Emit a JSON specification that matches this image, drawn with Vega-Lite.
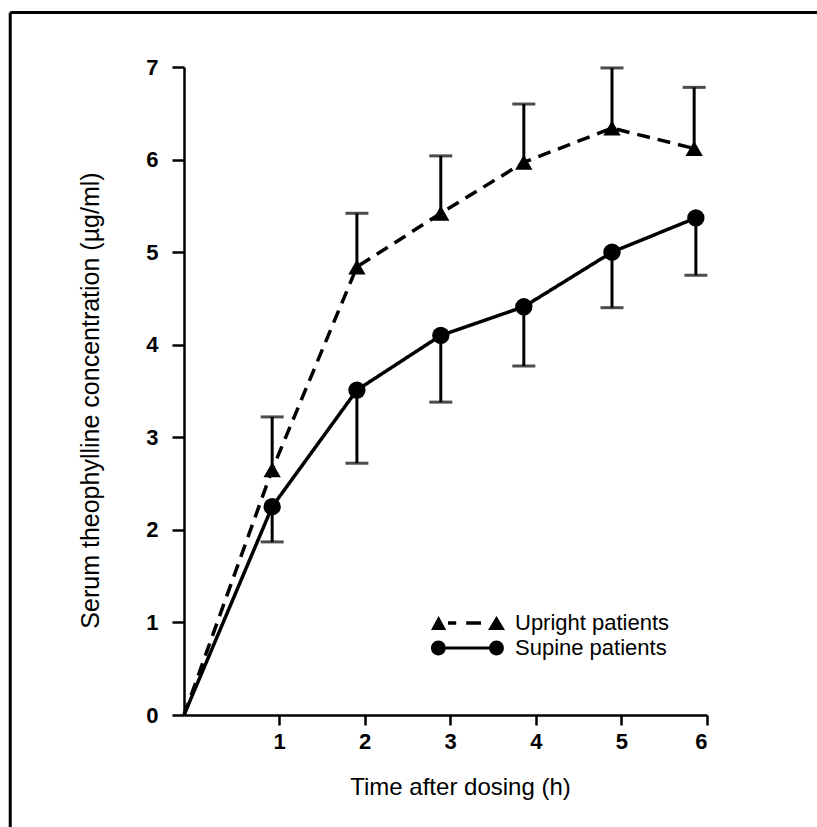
{
  "$schema": "https://vega.github.io/schema/vega-lite/v6.json",
  "width": 523,
  "height": 648,
  "autosize": {"type": "none"},
  "padding": {"left": 184, "top": 67, "right": 110, "bottom": 112},
  "background": "white",
  "config": {
    "view": {"stroke": null},
    "font": "Liberation Sans",
    "axis": {
      "grid": false,
      "domainColor": "black",
      "tickColor": "black",
      "domainWidth": 2.5,
      "tickWidth": 2.5,
      "labelColor": "black",
      "titleColor": "black",
      "labelFont": "Liberation Sans",
      "titleFont": "Liberation Sans",
      "titleFontWeight": "normal",
      "labelFontWeight": "bold",
      "labelFontSize": 22,
      "format": "d"
    }
  },
  "data": {
    "values": [
      {"series": "Upright patients", "time": -0.11, "conc": 0, "err": null},
      {"series": "Upright patients", "time": 0.92, "conc": 2.65, "err": 3.22},
      {"series": "Upright patients", "time": 1.91, "conc": 4.84, "err": 5.42},
      {"series": "Upright patients", "time": 2.89, "conc": 5.42, "err": 6.04},
      {"series": "Upright patients", "time": 3.86, "conc": 5.97, "err": 6.6},
      {"series": "Upright patients", "time": 4.89, "conc": 6.34, "err": 6.99},
      {"series": "Upright patients", "time": 5.85, "conc": 6.12, "err": 6.78},
      {"series": "Supine patients", "time": -0.11, "conc": 0, "err": null},
      {"series": "Supine patients", "time": 0.92, "conc": 2.25, "err": 1.87},
      {"series": "Supine patients", "time": 1.91, "conc": 3.51, "err": 2.72},
      {"series": "Supine patients", "time": 2.89, "conc": 4.1, "err": 3.38},
      {"series": "Supine patients", "time": 3.86, "conc": 4.41, "err": 3.77},
      {"series": "Supine patients", "time": 4.89, "conc": 5.0, "err": 4.4},
      {"series": "Supine patients", "time": 5.87, "conc": 5.37, "err": 4.75}
    ]
  },
  "layer": [
    {
      "data": {"values": [{}]},
      "mark": {"type": "rule", "color": "black", "strokeWidth": 3},
      "encoding": {
        "x": {"datum": -2.14, "type": "quantitative", "scale": {"domain": [-0.11, 6], "nice": false, "zero": false}},
        "x2": {"datum": 9},
        "y": {"datum": 7.59, "type": "quantitative", "scale": {"domain": [0, 7], "nice": false}}
      }
    },
    {
      "data": {"values": [{}]},
      "mark": {"type": "rule", "color": "black", "strokeWidth": 3},
      "encoding": {
        "x": {"datum": -2.14, "type": "quantitative", "scale": {"domain": [-0.11, 6], "nice": false, "zero": false}},
        "y": {"datum": 7.59, "type": "quantitative", "scale": {"domain": [0, 7], "nice": false}},
        "y2": {"datum": -3}
      }
    },
    {
      "transform": [{"filter": "datum.err != null"}],
      "mark": {"type": "rule", "color": "black", "strokeWidth": 3},
      "encoding": {
        "x": {"field": "time", "type": "quantitative", "scale": {"domain": [-0.11, 6], "nice": false, "zero": false}},
        "y": {"field": "conc", "type": "quantitative", "scale": {"domain": [0, 7], "nice": false}},
        "y2": {"field": "err"}
      }
    },
    {
      "transform": [{"filter": "datum.err != null"}],
      "mark": {"type": "tick", "color": "black", "orient": "horizontal", "size": 23, "thickness": 3},
      "encoding": {
        "x": {"field": "time", "type": "quantitative", "scale": {"domain": [-0.11, 6], "nice": false, "zero": false}},
        "y": {"field": "err", "type": "quantitative", "scale": {"domain": [0, 7], "nice": false}}
      }
    },
    {
      "mark": {"type": "line", "color": "black", "strokeWidth": 3.5},
      "encoding": {
        "x": {
          "field": "time", "type": "quantitative",
          "scale": {"domain": [-0.11, 6], "nice": false, "zero": false},
          "axis": {"values": [1, 2, 3, 4, 5, 6], "title": "Time after dosing (h)", "tickSize": 10, "labelPadding": 6, "titleFontSize": 24, "titlePadding": 23, "titleX": 276}
        },
        "y": {
          "field": "conc", "type": "quantitative",
          "scale": {"domain": [0, 7], "nice": false},
          "axis": {"values": [0, 1, 2, 3, 4, 5, 6, 7], "title": "Serum theophylline concentration (µg/ml)", "tickSize": 12, "labelPadding": 14, "titleFontSize": 25, "titlePadding": 42, "titleY": 333}
        },
        "strokeDash": {
          "field": "series", "type": "nominal",
          "scale": {"domain": ["Upright patients", "Supine patients"], "range": [[13, 8], [1, 0]]},
          "legend": null
        },
        "order": {"field": "time", "type": "quantitative"}
      }
    },
    {
      "transform": [{"filter": "datum.time > 0"}],
      "mark": {"type": "point", "filled": true, "color": "black", "opacity": 1},
      "encoding": {
        "x": {"field": "time", "type": "quantitative", "scale": {"domain": [-0.11, 6], "nice": false, "zero": false}},
        "y": {"field": "conc", "type": "quantitative", "scale": {"domain": [0, 7], "nice": false}},
        "shape": {
          "field": "series", "type": "nominal",
          "scale": {"domain": ["Upright patients", "Supine patients"], "range": ["triangle-up", "circle"]},
          "legend": null
        },
        "size": {"value": 300}
      }
    },
    {
      "transform": [{"filter": "datum.time > 0"}],
      "mark": {"type": "point", "filled": true, "color": "black", "opacity": 0},
      "encoding": {
        "x": {"field": "time", "type": "quantitative", "scale": {"domain": [-0.11, 6], "nice": false, "zero": false}},
        "y": {"field": "conc", "type": "quantitative", "scale": {"domain": [0, 7], "nice": false}},
        "shape": {
          "field": "series", "type": "nominal",
          "scale": {
            "domain": ["Upright patients", "Supine patients"],
            "range": [
              "M-3.7,0.7L-2.94,-0.7L-2.18,0.7Z M-2,-0.17H-1.18V0.17H-2Z M-0.18,-0.17H1.3V0.17H-0.18Z M2,0.7L2.85,-0.7L3.7,0.7Z",
              "M-3.7,0A0.74,0.74,0,1,0,-2.22,0A0.74,0.74,0,1,0,-3.7,0Z M-2.22,-0.15H2.11V0.15H-2.22Z M2.11,0A0.74,0.74,0,1,0,3.59,0A0.74,0.74,0,1,0,2.11,0Z"
            ]
          },
          "legend": {
            "title": null,
            "orient": "none",
            "legendX": 273,
            "legendY": 545,
            "symbolSize": 400,
            "symbolOpacity": 1,
            "symbolFillColor": "black",
            "symbolStrokeColor": "black",
            "symbolStrokeWidth": 0,
            "labelFontSize": 22,
            "labelFont": "Liberation Sans",
            "labelColor": "black",
            "labelOffset": 36,
            "labelLimit": 300,
            "rowPadding": 3
          }
        }
      }
    }
  ],
  "resolve": {"scale": {"shape": "independent"}, "legend": {"shape": "independent"}}
}
